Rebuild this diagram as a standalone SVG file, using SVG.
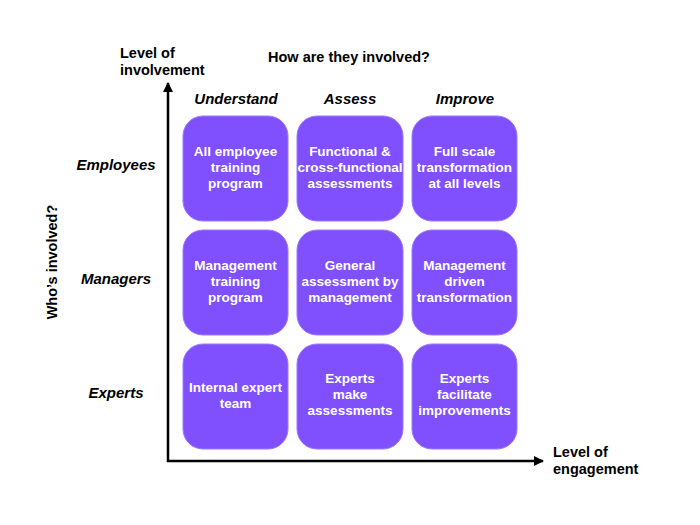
<svg xmlns="http://www.w3.org/2000/svg" width="700" height="525" viewBox="0 0 700 525">
<defs>
<style>
.lbl{font-family:"Liberation Sans",Arial,sans-serif;font-weight:bold;font-size:14.5px;fill:#000}
.hdr{font-family:"Liberation Sans",Arial,sans-serif;font-weight:bold;font-style:italic;font-size:15px;fill:#000;text-anchor:middle}
.box{fill:#8050FE;stroke:#9b78ff;stroke-width:1}
.bt{font-family:"Liberation Sans",Arial,sans-serif;font-weight:bold;font-size:13.5px;fill:#fff;text-anchor:middle}
.axis{stroke:#000;stroke-width:2.5;fill:none}
</style>
<marker id="ah" viewBox="0 0 10 10" refX="9" refY="5" markerWidth="4" markerHeight="4" orient="auto" markerUnits="strokeWidth">
<path d="M0,0 L10,5 L0,10 z" fill="#000"/>
</marker>
</defs>
<rect width="700" height="525" fill="#fff"/>
<g id="labels">
<text class="lbl" x="120" y="58">Level of</text>
<text class="lbl" x="120" y="75">involvement</text>
<text class="lbl" x="268" y="62">How are they involved?</text>
<text class="lbl" x="553" y="457">Level of</text>
<text class="lbl" x="553" y="474">engagement</text>
<text class="lbl" x="0" y="0" text-anchor="middle" transform="translate(57,262) rotate(-90)">Who’s involved?</text>
<text class="hdr" x="236" y="104">Understand</text>
<text class="hdr" x="350" y="104">Assess</text>
<text class="hdr" x="465" y="104">Improve</text>
<text class="hdr" x="116" y="170">Employees</text>
<text class="hdr" x="116" y="284">Managers</text>
<text class="hdr" x="116" y="398">Experts</text>
</g>
<g id="connectors">
<line class="axis" x1="168" y1="462" x2="168" y2="83" marker-end="url(#ah)"/>
<line class="axis" x1="167" y1="461" x2="543" y2="461" marker-end="url(#ah)"/>
</g>
<g id="n11"><rect class="box" x="183" y="116" width="105" height="105" rx="20"/>
<text class="bt" x="235.5" y="156">All employee</text><text class="bt" x="235.5" y="172">training</text><text class="bt" x="235.5" y="188">program</text></g>
<g id="n12"><rect class="box" x="297" y="116" width="106" height="105" rx="20"/>
<text class="bt" x="350" y="156">Functional &amp;</text><text class="bt" x="350" y="172">cross-functional</text><text class="bt" x="350" y="188">assessments</text></g>
<g id="n13"><rect class="box" x="412" y="116" width="105" height="105" rx="20"/>
<text class="bt" x="464.5" y="156">Full scale</text><text class="bt" x="464.5" y="172">transformation</text><text class="bt" x="464.5" y="188">at all levels</text></g>
<g id="n21"><rect class="box" x="183" y="230" width="105" height="105" rx="20"/>
<text class="bt" x="235.5" y="270">Management</text><text class="bt" x="235.5" y="286">training</text><text class="bt" x="235.5" y="302">program</text></g>
<g id="n22"><rect class="box" x="297" y="230" width="106" height="105" rx="20"/>
<text class="bt" x="350" y="270">General</text><text class="bt" x="350" y="286">assessment by</text><text class="bt" x="350" y="302">management</text></g>
<g id="n23"><rect class="box" x="412" y="230" width="105" height="105" rx="20"/>
<text class="bt" x="464.5" y="270">Management</text><text class="bt" x="464.5" y="286">driven</text><text class="bt" x="464.5" y="302">transformation</text></g>
<g id="n31"><rect class="box" x="183" y="344" width="105" height="105" rx="20"/>
<text class="bt" x="235.5" y="392">Internal expert</text><text class="bt" x="235.5" y="408">team</text></g>
<g id="n32"><rect class="box" x="297" y="344" width="106" height="105" rx="20"/>
<text class="bt" x="350" y="383">Experts</text><text class="bt" x="350" y="399">make</text><text class="bt" x="350" y="415">assessments</text></g>
<g id="n33"><rect class="box" x="412" y="344" width="105" height="105" rx="20"/>
<text class="bt" x="464.5" y="383">Experts</text><text class="bt" x="464.5" y="399">facilitate</text><text class="bt" x="464.5" y="415">improvements</text></g>
</svg>
